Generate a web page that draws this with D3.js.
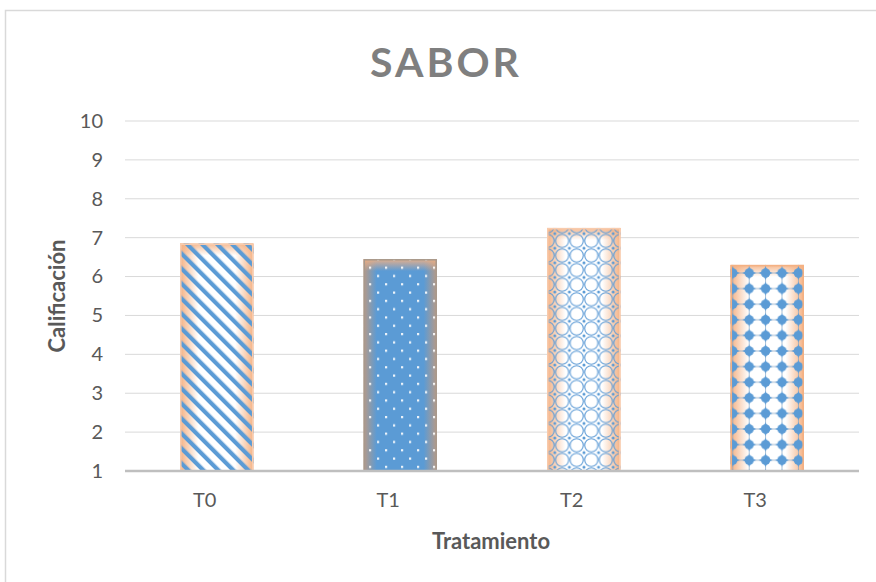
<!DOCTYPE html>
<html>
<head>
<meta charset="utf-8">
<script src="https://cdn.jsdelivr.net/npm/d3@7/dist/d3.min.js"></script>
<style>
  html, body { margin: 0; padding: 0; background: #fff; }
  svg { display: block; }
</style>
</head>
<body>
<svg id="chart" width="876" height="582"></svg>
<script>
// Taste scores per treatment
const categories = ["T0", "T1", "T2", "T3"];
const values = [6.85, 6.45, 7.25, 6.3];
const yTicks = [1, 2, 3, 4, 5, 6, 7, 8, 9, 10];
const titleText = "SABOR";
const xTitle = "Tratamiento";
const yTitle = "Calificación";

const W = 876, H = 582;
const margin = { left: 125, right: 17, top: 121, bottom: 111 };
const svg = d3.select("#chart");
const defs = svg.append("defs");
const font = "Lato, 'Open Sans', sans-serif";

const blue = "#5b9bd5";
const orange = "#f4b183";

// outer chart frame
svg.append("rect")
  .attr("x", 5.5).attr("y", 10.5)
  .attr("width", W + 20).attr("height", H + 20)
  .attr("fill", "#fff").attr("stroke", "#d9d9d9").attr("stroke-width", 1.5);

const x = d3.scaleBand()
  .domain(categories)
  .range([margin.left, W - margin.right])
  .paddingInner(0.6).paddingOuter(0.3);

const y = d3.scaleLinear()
  .domain([1, 10])
  .range([H - margin.bottom, margin.top]);

// gridlines
svg.append("g")
  .selectAll("line")
  .data(yTicks.filter(t => t > 1))
  .join("line")
  .attr("x1", margin.left).attr("x2", W - margin.right)
  .attr("y1", d => y(d)).attr("y2", d => y(d))
  .attr("stroke", "#d9d9d9").attr("stroke-width", 1);

// y axis labels
const yAxis = svg.append("g")
  .attr("transform", `translate(${margin.left},0)`)
  .call(d3.axisLeft(y).tickValues(yTicks).tickSize(0).tickPadding(22).tickFormat(d3.format("d")));
yAxis.select(".domain").remove();
yAxis.selectAll("text")
  .attr("font-family", font).attr("font-size", 20).attr("fill", "#595959");

// edge-shaded backgrounds fading to orange at the sides and top
function edgeGradient(id, centre, edge, stop) {
  const h = defs.append("linearGradient").attr("id", id)
    .attr("x1", "0").attr("x2", "1").attr("y1", "0").attr("y2", "0");
  h.append("stop").attr("offset", "0").attr("stop-color", edge);
  h.append("stop").attr("offset", stop).attr("stop-color", centre);
  h.append("stop").attr("offset", 1 - stop).attr("stop-color", centre);
  h.append("stop").attr("offset", "1").attr("stop-color", edge);
}
edgeGradient("gw", "#ffffff", orange, 0.25);
edgeGradient("gb", blue, "#b89a86", 0.18);
const gt = defs.append("linearGradient").attr("id", "gtop")
  .attr("x1", "0").attr("x2", "0").attr("y1", "0").attr("y2", "1");
gt.append("stop").attr("offset", "0").attr("stop-color", orange).attr("stop-opacity", 0.9);
gt.append("stop").attr("offset", "1").attr("stop-color", orange).attr("stop-opacity", 0);

// T0: diagonal stripes
const p0 = defs.append("pattern").attr("id", "p0")
  .attr("patternUnits", "userSpaceOnUse")
  .attr("width", 10.6).attr("height", 10)
  .attr("patternTransform", "rotate(-45)");
p0.append("rect").attr("x", 0).attr("y", 0).attr("width", 4.2).attr("height", 10).attr("fill", blue);

// T1: staggered white dots
const p1 = defs.append("pattern").attr("id", "p1")
  .attr("patternUnits", "userSpaceOnUse")
  .attr("width", 16).attr("height", 16.6);
p1.append("rect").attr("x", 1).attr("y", 1).attr("width", 2.2).attr("height", 2.2).attr("fill", "#fff").attr("opacity", 0.9);
p1.append("rect").attr("x", 9).attr("y", 9.3).attr("width", 2.2).attr("height", 2.2).attr("fill", "#fff").attr("opacity", 0.9);

// T2: trellis of rings
const p2 = defs.append("pattern").attr("id", "p2")
  .attr("patternUnits", "userSpaceOnUse")
  .attr("width", 14.6).attr("height", 14.6);
p2.append("circle").attr("cx", 7.3).attr("cy", 7.3).attr("r", 6.6)
  .attr("fill", "none").attr("stroke", "#5f9cd6").attr("stroke-width", 1.1);
[[0, 0], [14.6, 0], [0, 14.6], [14.6, 14.6]].forEach(([cx, cy]) => {
  p2.append("circle").attr("cx", cx).attr("cy", cy).attr("r", 1.5).attr("fill", blue);
});

// T3: grid of four-pointed blue blobs with thin crosses
const p3 = defs.append("pattern").attr("id", "p3")
  .attr("patternUnits", "userSpaceOnUse")
  .attr("width", 16.4).attr("height", 15.6)
  .attr("patternTransform", "translate(3,0)");
p3.append("line").attr("x1", 0).attr("x2", 16.4).attr("y1", 7.8).attr("y2", 7.8)
  .attr("stroke", "#7f9fbf").attr("stroke-width", 1).attr("opacity", 0.7);
p3.append("line").attr("x1", 8.2).attr("x2", 8.2).attr("y1", 0).attr("y2", 15.6)
  .attr("stroke", "#7f9fbf").attr("stroke-width", 1).attr("opacity", 0.7);
p3.append("circle").attr("cx", 8.2).attr("cy", 7.8).attr("r", 4.7).attr("fill", blue);
p3.append("path")
  .attr("d", "M8.2,0.9 Q9.9,6.1 15.2,7.8 Q9.9,9.5 8.2,14.7 Q6.5,9.5 1.2,7.8 Q6.5,6.1 8.2,0.9 Z")
  .attr("fill", blue);

const bars = [
  { bg: "gw", pat: "p0", stroke: "#f8cbad" },
  { bg: "gb", pat: "p1", stroke: "#a8998c" },
  { bg: "gw", pat: "p2", stroke: "#f8cbad" },
  { bg: "gw", pat: "p3", stroke: "#f4b183" }
];

const g = svg.append("g");
categories.forEach((c, i) => {
  const bx = x(c), bw = x.bandwidth();
  const by = y(values[i]), bh = y(1) - y(values[i]);
  const grp = g.append("g");
  grp.append("rect").attr("x", bx).attr("y", by).attr("width", bw).attr("height", bh)
    .attr("fill", `url(#${bars[i].bg})`);
  grp.append("rect").attr("x", bx).attr("y", by).attr("width", bw).attr("height", Math.min(12, bh))
    .attr("fill", "url(#gtop)");
  grp.append("rect").attr("x", bx).attr("y", by).attr("width", bw).attr("height", bh)
    .attr("fill", `url(#${bars[i].pat})`);
  grp.append("rect").attr("x", bx + 0.75).attr("y", by + 0.75).attr("width", bw - 1.5).attr("height", bh - 0.75)
    .attr("fill", "none").attr("stroke", bars[i].stroke).attr("stroke-width", 1.5);
});

// category axis baseline
svg.append("line")
  .attr("x1", margin.left).attr("x2", W - margin.right)
  .attr("y1", y(1)).attr("y2", y(1))
  .attr("stroke", "#bfbfbf").attr("stroke-width", 2.5);

const xAxis = svg.append("g")
  .attr("transform", `translate(-12,${y(1)})`)
  .call(d3.axisBottom(x).tickSize(0).tickPadding(22));
xAxis.select(".domain").remove();
xAxis.selectAll("text")
  .attr("font-family", font).attr("font-size", 20).attr("fill", "#595959");

// titles
svg.append("text")
  .attr("x", 446).attr("y", 77)
  .attr("text-anchor", "middle")
  .attr("font-family", font).attr("font-weight", "bold").attr("font-size", 41)
  .attr("letter-spacing", 3)
  .attr("fill", "#7f7f7f")
  .text(titleText);

svg.append("text")
  .attr("x", 491).attr("y", 549)
  .attr("text-anchor", "middle")
  .attr("font-family", font).attr("font-weight", "bold").attr("font-size", 22)
  .attr("fill", "#595959")
  .text(xTitle);

svg.append("text")
  .attr("transform", "translate(65,296) rotate(-90)")
  .attr("text-anchor", "middle")
  .attr("font-family", font).attr("font-weight", "bold").attr("font-size", 22)
  .attr("fill", "#595959")
  .text(yTitle);
</script>
</body>
</html>
